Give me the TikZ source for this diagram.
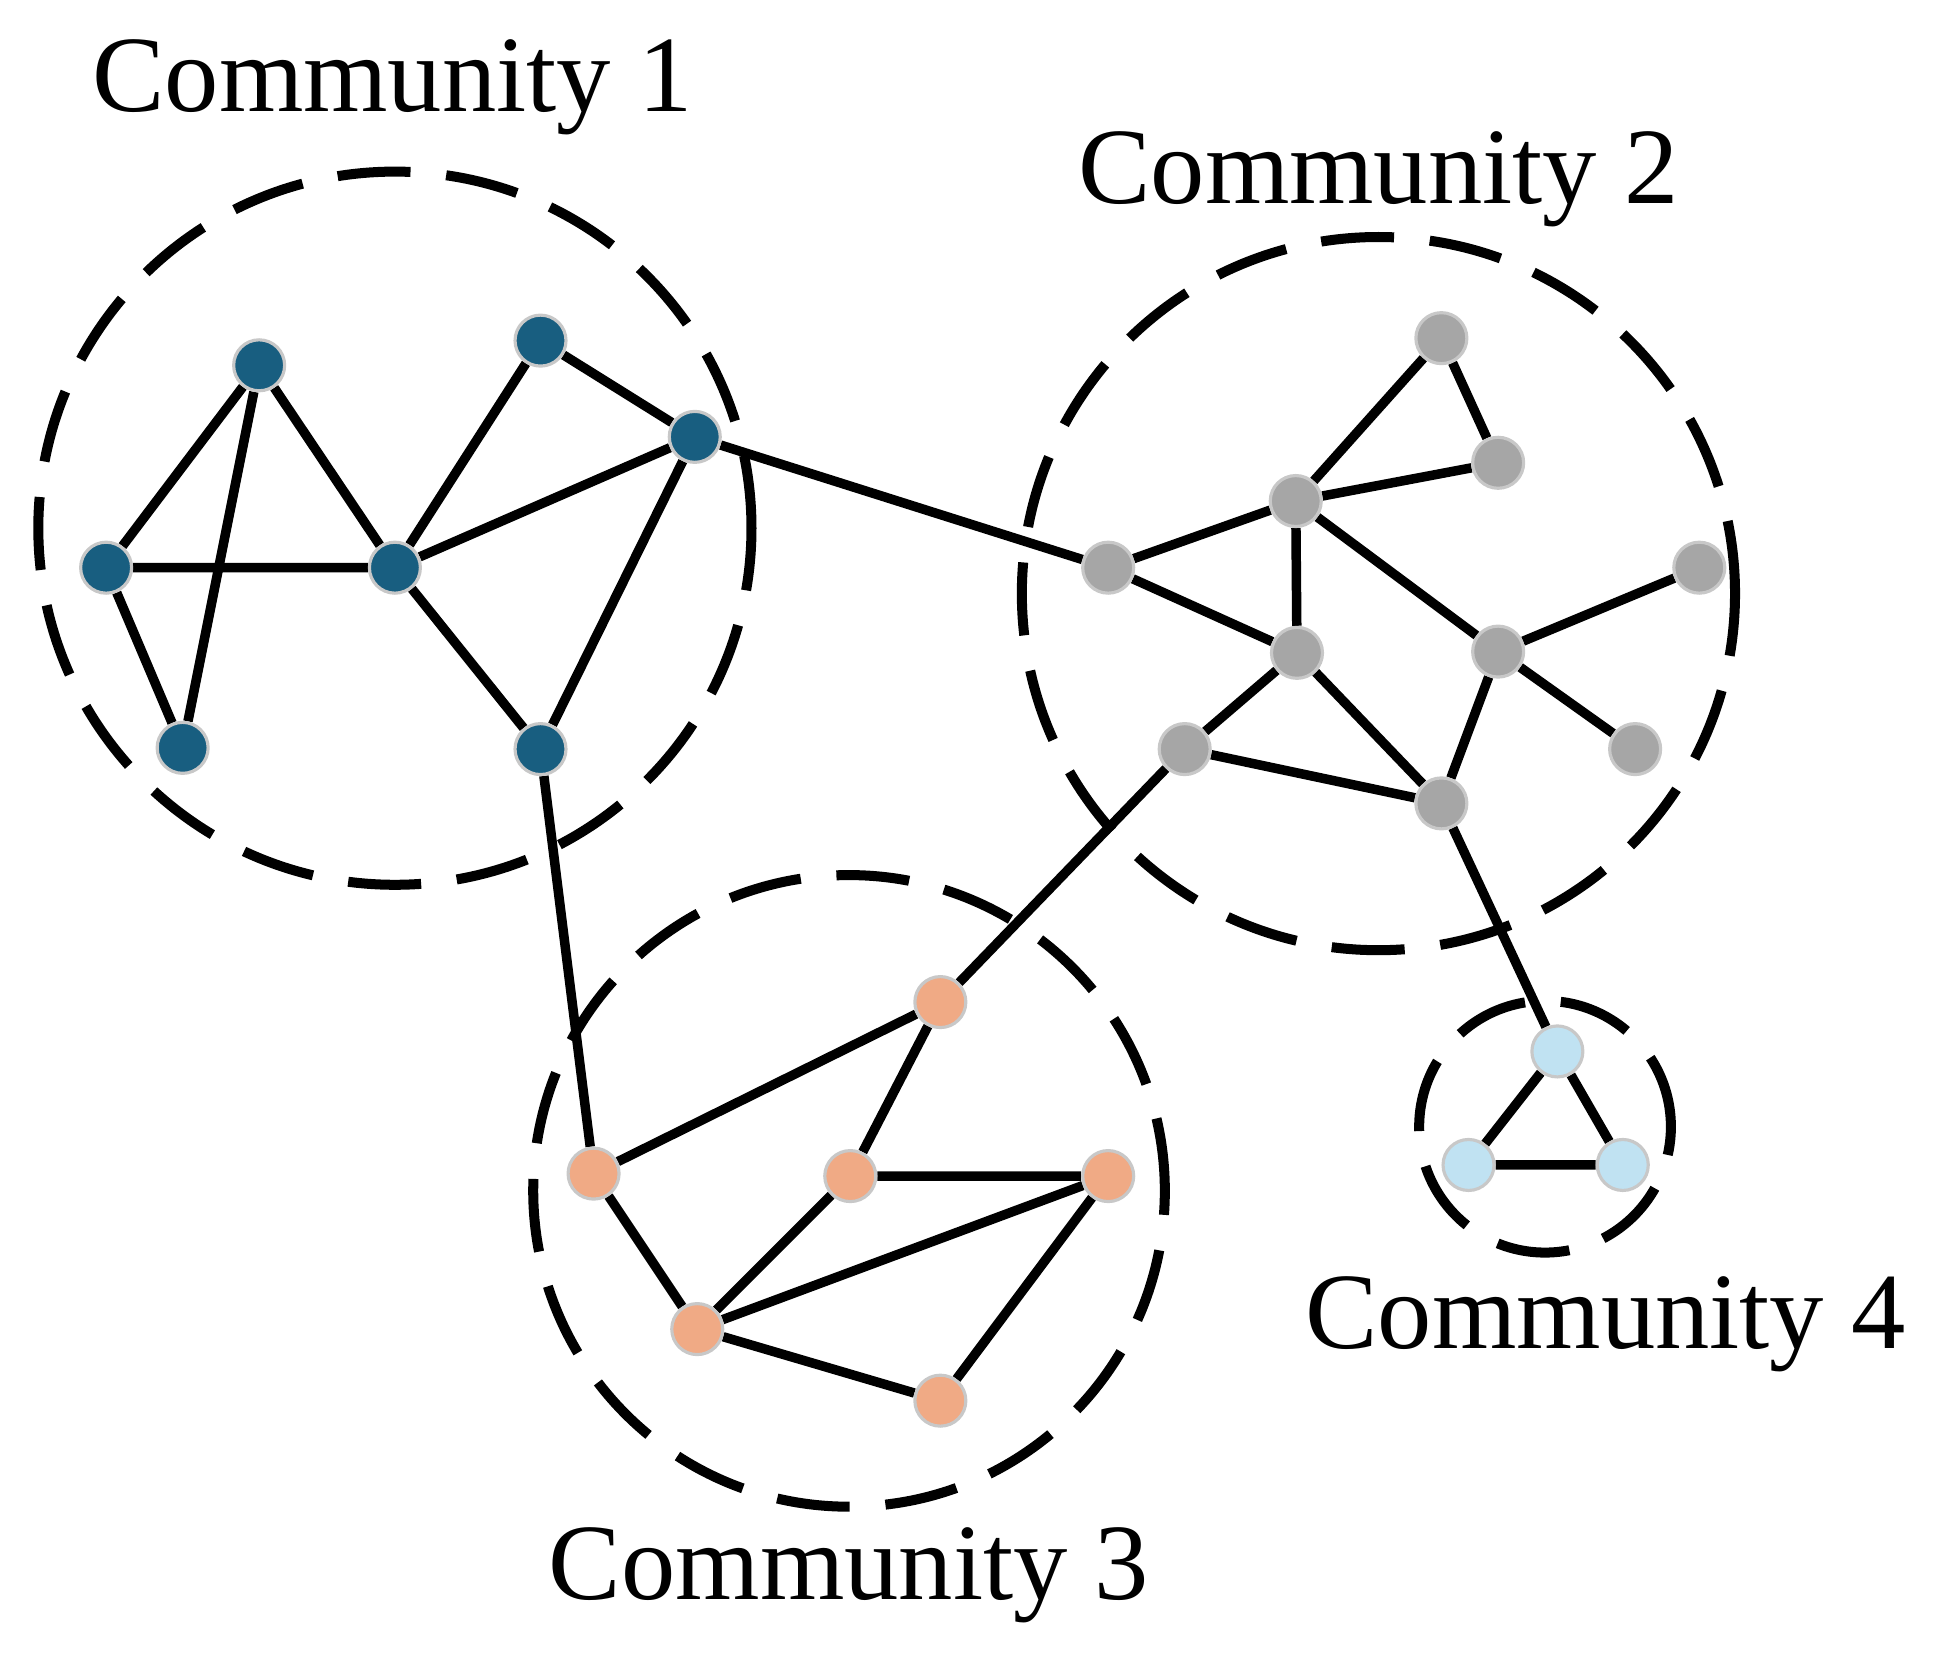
\documentclass[tikz,border=0pt]{standalone}
\usepackage{fontspec}
\setmainfont{Liberation Serif}
\usetikzlibrary{backgrounds}
\definecolor{cblue}{RGB}{24,94,128}
\definecolor{cgray}{RGB}{166,166,166}
\definecolor{corange}{RGB}{240,170,133}
\definecolor{clight}{RGB}{192,226,242}
\definecolor{cborder}{RGB}{200,200,200}
\begin{document}
\begin{tikzpicture}[x=0.012341cm,y=-0.012341cm,
  vtx/.style={circle,draw=cborder,line width=0.9pt,minimum size=0.51cm,inner sep=0pt},
  bl/.style={vtx,fill=cblue},
  gr/.style={vtx,fill=cgray},
  or/.style={vtx,fill=corange},
  lb/.style={vtx,fill=clight},
  edge/.style={line width=2.7pt,black},
  comm/.style={line width=2.85pt,black,dash pattern=on 20.8pt off 10.2pt},
  lab/.style={anchor=base,inner sep=0pt,font=\fontsize{30.9}{36}\selectfont}]
\useasboundingbox (0,0) rectangle (1568,1347);
% community centres
\coordinate (k1) at (320,428);
\coordinate (k2) at (1117,481);
\coordinate (k3) at (688,965);
\coordinate (k4) at (1252,913);
% Community 1
\node[bl] (a1) at (210,296) {};
\node[bl] (a2) at (438,276) {};
\node[bl] (a3) at (563,354) {};
\node[bl] (a4) at (86,460) {};
\node[bl] (a5) at (320,460) {};
\node[bl] (a6) at (148,606) {};
\node[bl] (a7) at (438,607) {};
% Community 2
\node[gr] (b1) at (1168,274) {};
\node[gr] (b2) at (1214,375) {};
\node[gr] (b3) at (1050,406) {};
\node[gr] (b4) at (898,460) {};
\node[gr] (b5) at (1377,460) {};
\node[gr] (b6) at (1051,529) {};
\node[gr] (b7) at (1214,528) {};
\node[gr] (b8) at (960,607) {};
\node[gr] (b9) at (1325,607) {};
\node[gr] (b10) at (1168,651) {};
% Community 3
\node[or] (c1) at (762,812) {};
\node[or] (c2) at (481,951) {};
\node[or] (c3) at (689,953) {};
\node[or] (c4) at (898,953) {};
\node[or] (c5) at (565,1077) {};
\node[or] (c6) at (762,1135) {};
% Community 4
\node[lb] (d1) at (1262,852) {};
\node[lb] (d2) at (1190,944) {};
\node[lb] (d3) at (1315,944) {};
% labels
\node[lab] (l1) at (318,90) {Community 1};
\node[lab] (l2) at (1117,165) {Community 2};
\node[lab] (l3) at (688,1296) {Community 3};
\node[lab] (l4) at (1301,1093) {Community 4};
\begin{scope}[on background layer]
  \draw[comm] (k1) circle[radius=3.567cm];
  \draw[comm] (k2) circle[radius=3.567cm];
  \draw[comm] (k3) circle[radius=3.159cm];
  \draw[comm] (k4) circle[radius=1.259cm];
  \draw[edge] (a1)--(a4) (a1)--(a6) (a1)--(a5) (a4)--(a5) (a4)--(a6)
    (a5)--(a2) (a5)--(a3) (a5)--(a7) (a2)--(a3) (a3)--(a7);
  \draw[edge] (a3)--(b4) (a7)--(c2) (b8)--(c1) (b10)--(d1);
  \draw[edge] (b1)--(b3) (b1)--(b2) (b3)--(b2) (b3)--(b4) (b3)--(b6) (b3)--(b7)
    (b4)--(b6) (b6)--(b8) (b6)--(b10) (b8)--(b10) (b7)--(b10) (b7)--(b5) (b7)--(b9);
  \draw[edge] (c1)--(c2) (c1)--(c3) (c3)--(c4) (c3)--(c5) (c2)--(c5) (c5)--(c4)
    (c5)--(c6) (c6)--(c4);
  \draw[edge] (d1)--(d2) (d1)--(d3) (d2)--(d3);
\end{scope}
\end{tikzpicture}
\end{document}
